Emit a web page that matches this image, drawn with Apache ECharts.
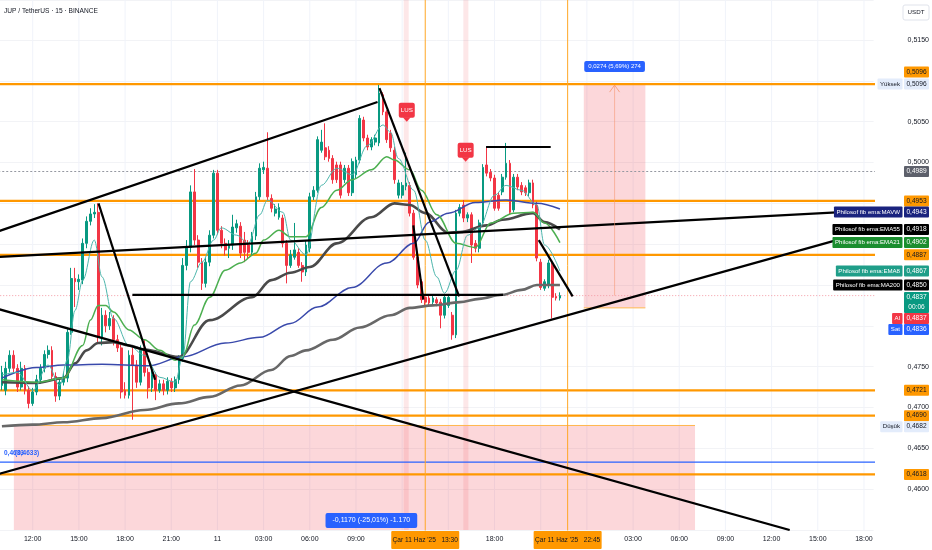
<!DOCTYPE html>
<html><head><meta charset="utf-8">
<script src="https://cdn.jsdelivr.net/npm/echarts@6/dist/echarts.min.js"></script>
<style>html,body{margin:0;padding:0;background:#fff}#c{width:932px;height:550px}</style>
</head><body><div id="c"></div>
<script>
const FONT = '"Liberation Sans", Arial, sans-serif';
const TITLE = 'JUP / TetherUS · 15 · BINANCE';

// 15-minute slots starting 10 Jun 10:00
const SLOT_COUNT = 227;
const categories = [];
for (let s = 0; s < SLOT_COUNT; s++) {
  const m = 10 * 60 + s * 15, d = 10 + Math.floor(m / 1440), mm = m % 1440;
  const h = Math.floor(mm / 60), mi = mm % 60;
  categories.push(h === 0 && mi === 0 ? String(d) : String(h).padStart(2, '0') + ':' + String(mi).padStart(2, '0'));
}
const timeTickIdx = [8, 20, 32, 44, 56, 68, 80, 92, 128, 164, 176, 188, 200, 212, 224];
const timeGridIdx = [8, 20, 32, 44, 56, 68, 80, 92, 104, 116, 128, 140, 152, 164, 176, 188, 200, 212, 224];
const shownPriceTicks = ['0.5150', '0.5050', '0.5000', '0.4750', '0.4700', '0.4650', '0.4600'];

// [open, close, low, high]
const candles = [
[0.4727,0.4743,0.4721,0.4751],[0.4721,0.4748,0.4715,0.4756],[0.4748,0.4764,0.4743,0.4770],[0.4764,0.4748,0.4743,0.4770],
[0.4748,0.4725,0.4719,0.4753],[0.4725,0.4748,0.4721,0.4756],[0.4748,0.4721,0.4716,0.4752],[0.4721,0.4705,0.4699,0.4726],
[0.4705,0.4719,0.4702,0.4724],[0.4719,0.4734,0.4715,0.4740],[0.4734,0.4748,0.4729,0.4753],[0.4748,0.4765,0.4743,0.4770],
[0.4765,0.4770,0.4760,0.4776],[0.4770,0.4738,0.4734,0.4775],[0.4738,0.4714,0.4707,0.4743],[0.4714,0.4731,0.4709,0.4736],
[0.4731,0.4737,0.4727,0.4743],[0.4736,0.4792,0.4731,0.4797],[0.4792,0.4858,0.4789,0.4871],[0.4858,0.4854,0.4823,0.4871],
[0.4854,0.4857,0.4844,0.4863],[0.4856,0.4901,0.4851,0.4907],[0.4901,0.4928,0.4895,0.4934],[0.4928,0.4937,0.4923,0.4944],
[0.4937,0.4939,0.4932,0.4949],[0.4939,0.4786,0.4780,0.4950],[0.4786,0.4813,0.4776,0.4822],[0.4813,0.4800,0.4792,0.4819],
[0.4800,0.4809,0.4795,0.4817],[0.4809,0.4783,0.4776,0.4813],[0.4783,0.4773,0.4768,0.4789],[0.4773,0.4719,0.4711,0.4778],
[0.4721,0.4715,0.4711,0.4731],[0.4715,0.4764,0.4711,0.4770],[0.4764,0.4752,0.4685,0.4773],[0.4752,0.4731,0.4724,0.4758],
[0.4731,0.4770,0.4727,0.4776],[0.4773,0.4743,0.4738,0.4783],[0.4743,0.4724,0.4711,0.4748],[0.4724,0.4740,0.4719,0.4746],
[0.4740,0.4721,0.4709,0.4743],[0.4721,0.4729,0.4718,0.4734],[0.4729,0.4721,0.4715,0.4734],[0.4721,0.4732,0.4716,0.4737],
[0.4732,0.4724,0.4719,0.4736],[0.4724,0.4734,0.4719,0.4738],[0.4734,0.4760,0.4729,0.4764],[0.4760,0.4874,0.4756,0.4883],
[0.4874,0.4896,0.4868,0.4905],[0.4896,0.4964,0.4890,0.4972],[0.4964,0.4905,0.4899,0.4992],[0.4905,0.4878,0.4871,0.4911],
[0.4878,0.4852,0.4844,0.4883],[0.4852,0.4878,0.4847,0.4883],[0.4878,0.4911,0.4873,0.4917],[0.4911,0.4987,0.4907,0.4991],
[0.4987,0.4917,0.4912,0.4991],[0.4917,0.4901,0.4895,0.4922],[0.4901,0.4893,0.4886,0.4907],[0.4895,0.4899,0.4883,0.4905],
[0.4899,0.4921,0.4893,0.4936],[0.4920,0.4925,0.4914,0.4930],[0.4922,0.4889,0.4883,0.4927],[0.4905,0.4890,0.4878,0.4915],
[0.4899,0.4890,0.4883,0.4905],[0.4890,0.4910,0.4886,0.4915],[0.4910,0.4958,0.4905,0.4964],[0.4958,0.4993,0.4954,0.4999],
[0.4991,0.4994,0.4986,0.5001],[0.4993,0.4958,0.4954,0.5037],[0.4956,0.4944,0.4939,0.4961],[0.4938,0.4943,0.4934,0.4949],
[0.4933,0.4945,0.4930,0.4950],[0.4932,0.4901,0.4896,0.4936],[0.4901,0.4874,0.4852,0.4905],[0.4874,0.4887,0.4871,0.4893],
[0.4884,0.4893,0.4881,0.4926],[0.4890,0.4874,0.4871,0.4895],[0.4874,0.4866,0.4854,0.4878],[0.4866,0.4899,0.4861,0.4905],
[0.4895,0.4958,0.4890,0.4963],[0.4958,0.4966,0.4954,0.4971],[0.4966,0.5028,0.4963,0.5032],[0.5015,0.5025,0.5012,0.5040],
[0.5018,0.5007,0.5003,0.5048],[0.5015,0.5005,0.5001,0.5020],[0.5005,0.4979,0.4974,0.5009],[0.4997,0.4979,0.4975,0.5001],
[0.4997,0.4960,0.4956,0.5001],[0.4979,0.4993,0.4975,0.4997],[0.4993,0.4963,0.4959,0.4997],[0.4963,0.5001,0.4959,0.5005],
[0.4985,0.5003,0.4981,0.5007],[0.5003,0.5054,0.4999,0.5058],[0.5052,0.5030,0.5026,0.5056],[0.5030,0.5019,0.5015,0.5034],
[0.5019,0.5028,0.5015,0.5031],[0.5025,0.5030,0.5021,0.5034],[0.5024,0.5085,0.5020,0.5095],[0.5083,0.5062,0.5058,0.5086],
[0.5062,0.5028,0.5024,0.5064],[0.5036,0.5018,0.5013,0.5040],[0.5015,0.4979,0.4974,0.5019],[0.4960,0.4975,0.4956,0.4979],
[0.4960,0.4972,0.4956,0.4976],[0.4971,0.4975,0.4966,0.5012],[0.4972,0.4938,0.4934,0.4976],[0.4938,0.4884,0.4881,0.4942],
[0.4884,0.4850,0.4846,0.4888],[0.4854,0.4832,0.4828,0.4857],[0.4835,0.4829,0.4825,0.4839],[0.4834,0.4828,0.4824,0.4838],
[0.4829,0.4834,0.4825,0.4838],[0.4832,0.4828,0.4824,0.4835],[0.4829,0.4813,0.4797,0.4833],[0.4813,0.4835,0.4809,0.4839],
[0.4825,0.4835,0.4822,0.4839],[0.4813,0.4789,0.4783,0.4817],[0.4789,0.4938,0.4785,0.4942],[0.4938,0.4945,0.4934,0.4949],
[0.4948,0.4932,0.4927,0.4954],[0.4932,0.4936,0.4927,0.4939],[0.4936,0.4899,0.4877,0.4939],[0.4901,0.4895,0.4890,0.4905],
[0.4895,0.4926,0.4890,0.4930],[0.4926,0.4994,0.4922,0.4998],[0.4997,0.4987,0.4983,0.5019],[0.4988,0.4981,0.4977,0.4992],
[0.4981,0.4944,0.4941,0.4985],[0.4960,0.4944,0.4941,0.4964],[0.4964,0.4982,0.4960,0.4986],[0.4982,0.4999,0.4979,0.5024],
[0.4999,0.4939,0.4936,0.5003],[0.4942,0.4982,0.4939,0.4986],[0.4982,0.4970,0.4966,0.4986],[0.4972,0.4964,0.4960,0.4976],
[0.4969,0.4963,0.4959,0.4972],[0.4963,0.4975,0.4959,0.4979],[0.4975,0.4948,0.4944,0.4979],[0.4948,0.4883,0.4879,0.4952],
[0.4878,0.4847,0.4844,0.4882],[0.4846,0.4854,0.4843,0.4857],[0.4850,0.4877,0.4846,0.4881],[0.4874,0.4835,0.4809,0.4878],
[0.4836,0.4834,0.4831,0.4840],[0.4834,0.4837,0.4831,0.4841]
];

// indicator lines: [slot index, price]
const ema8 = [[0,0.4740],[4,0.4743],[8,0.4721],[12,0.4752],[15,0.4727],[17,0.4758],[19,0.4819],[21,0.4856],[24,0.4905],[26,0.4860],[29,0.4809],[33,0.4776],[37,0.4764],[41,0.4737],[45,0.4731],[47,0.4762],[49,0.4854],[52,0.4878],[55,0.4905],[57,0.4920],[61,0.4911],[64,0.4901],[67,0.4936],[69,0.4954],[73,0.4939],[75,0.4905],[79,0.4887],[83,0.4972],[87,0.4993],[91,0.4985],[95,0.5021],[99,0.5046],[101,0.5037],[103,0.5005],[107,0.4966],[110,0.4905],[113,0.4860],[115,0.4840],[118,0.4868],[121,0.4911],[124,0.4920],[128,0.4960],[131,0.4972],[135,0.4966],[139,0.4948],[141,0.4899],[145,0.4867]];
const ema21 = [[0,0.4734],[9,0.4731],[16,0.4736],[21,0.4776],[23,0.4807],[25,0.4825],[27,0.4825],[29,0.4817],[33,0.4795],[37,0.4783],[41,0.4770],[45,0.4758],[47,0.4762],[50,0.4801],[54,0.4835],[58,0.4868],[62,0.4877],[66,0.4889],[68,0.4905],[72,0.4917],[75,0.4909],[79,0.4909],[83,0.4945],[87,0.4966],[91,0.4979],[96,0.4991],[100,0.5007],[102,0.5003],[106,0.4991],[109,0.4966],[113,0.4936],[118,0.4901],[123,0.4896],[127,0.4926],[133,0.4938],[138,0.4939],[141,0.4926],[145,0.4902]];
const ema55 = [[0,0.4731],[9,0.4730],[16,0.4736],[19,0.4754],[22,0.4770],[25,0.4779],[29,0.4780],[33,0.4776],[37,0.4771],[46,0.4762],[54,0.4807],[65,0.4835],[70,0.4856],[75,0.4865],[80,0.4872],[87,0.4901],[96,0.4933],[102,0.4950],[106,0.4948],[110,0.4938],[116,0.4914],[119,0.4915],[126,0.4923],[130,0.4930],[138,0.4938],[141,0.4927],[145,0.4918]];
const ma200 = [[0,0.4677],[8,0.4679],[16,0.4682],[26,0.4687],[37,0.4697],[46,0.4705],[54,0.4713],[62,0.4727],[70,0.4746],[75,0.4763],[79,0.4770],[86,0.4783],[93,0.4798],[101,0.4813],[106,0.4822],[112,0.4825],[119,0.4829],[124,0.4833],[130,0.4838],[135,0.4844],[139,0.4850],[145,0.4850]];
const mavw = [[0,0.4736],[9,0.4749],[16,0.4752],[26,0.4753],[38,0.4751],[47,0.4762],[58,0.4779],[67,0.4786],[75,0.4803],[82,0.4823],[91,0.4847],[100,0.4877],[107,0.4901],[111,0.4927],[116,0.4938],[123,0.4951],[131,0.4954],[139,0.4950],[145,0.4943]];

// drawn trend lines: [slot1, price1, slot2, price2]
const trendLines = [
  [-2,0.4914,97.6,0.5074],[-2,0.4884,216.9,0.4939],[25.1,0.4950,39.8,0.4734],[-2,0.4822,204.7,0.4550],
  [-2,0.4617,216.9,0.4905],[33.9,0.4838,130.2,0.4838],[98.1,0.5091,118.8,0.4836],[125.8,0.5019,142.6,0.5019],
  [106.9,0.4923,109.5,0.4832],[139.5,0.4905,148.3,0.4836]
];
const orangeLevels = [0.5096, 0.4953, 0.4887, 0.4721, 0.4690, 0.4618];
const blueLevel = 0.4633;
const grayDotLevel = 0.4989;
const lastPrice = 0.4837;
const verticalMarks = [110, 147];
// zones: [slot1, price1, slot2, price2, kind]
const zones = [[151.2,0.5096,167.2,0.4822,0],[3.1,0.4678,180.1,0.3508,0],[104.4,0.60,105.7,0.40,1],[119.9,0.60,121.2,0.40,1]];
const zoneEdges = [[151.2,0.4822,167.2,0.4822],[3.1,0.4678,180.1,0.4678]];
const signals = [{v:105.2, p:0.5050, text:'LUS'}, {v:120.5, p:0.5001, text:'LUS'}];
const measureA = {v:159.2, p:0.5096, text:'0,0274 (5,69%) 274', from:0.4837};
const measureB = {v:96.0, text:'-0,1170 (-25,01%) -1.170'};
const timeMarkers = [{v:110, text:"Çar 11 Haz '25   13:30"}, {v:147, text:"Çar 11 Haz '25   22:45"}];
const leftTag = {p:0.4633, a:'0,4633', b:'(0,4633)'};
const ORANGE = '#FF9800';
const rightLabels = [
  {p:0.5096, name:'Yüksek', nbg:'#E3ECFB', nfg:'#131722', val:'0,5096', bg:'#E3ECFB', fg:'#131722'},
  {p:0.5096, val:'0,5096', bg:ORANGE, fg:'#131722', above:true},
  {p:0.4989, val:'0,4989', bg:'#5D606B', fg:'#fff'},
  {p:0.4953, val:'0,4953', bg:ORANGE, fg:'#131722'},
  {p:0.4943, name:'Philosof fib ema:MAVW', nbg:'#1A237E', nfg:'#fff', val:'0,4943', bg:'#1A237E', fg:'#fff'},
  {p:0.4918, name:'Philosof fib ema:EMA55', nbg:'#000', nfg:'#fff', val:'0,4918', bg:'#000', fg:'#fff'},
  {p:0.4902, name:'Philosof fib ema:EMA21', nbg:'#1B8E2F', nfg:'#fff', val:'0,4902', bg:'#1B8E2F', fg:'#fff'},
  {p:0.4887, val:'0,4887', bg:ORANGE, fg:'#131722'},
  {p:0.4867, name:'Philosof fib ema:EMA8', nbg:'#1F9E89', nfg:'#fff', val:'0,4867', bg:'#1F9E89', fg:'#fff'},
  {p:0.4850, name:'Philosof fib ema:MA200', nbg:'#000', nfg:'#fff', val:'0,4850', bg:'#000', fg:'#fff'},
  {p:0.4837, val:'0,4837', sub:'00:06', bg:'#089981', fg:'#fff'},
  {p:0.4837, name:'Al', nbg:'#F23645', nfg:'#fff', val:'0,4837', bg:'#F23645', fg:'#fff'},
  {p:0.4836, name:'Sat', nbg:'#2962FF', nfg:'#fff', val:'0,4836', bg:'#2962FF', fg:'#fff'},
  {p:0.4721, val:'0,4721', bg:ORANGE, fg:'#131722'},
  {p:0.4690, val:'0,4690', bg:ORANGE, fg:'#131722'},
  {p:0.4682, name:'Düşük', nbg:'#E3ECFB', nfg:'#131722', val:'0,4682', bg:'#E3ECFB', fg:'#131722'},
  {p:0.4618, val:'0,4618', bg:ORANGE, fg:'#131722'}
];

const chart = echarts.init(document.getElementById('c'), null, {renderer:'canvas'});
const seg = (s, color, width, type, z) => ({
  type:'line', xAxisIndex:1, yAxisIndex:0, data:[[s[0], s[1]], [s[2], s[3]]], symbol:'none', silent:true,
  lineStyle:{color, width, type: type || 'solid'}, z, animation:false
});
const maLine = (d, color, width, z) => ({
  type:'line', xAxisIndex:1, yAxisIndex:0, data:d, symbol:'none', smooth:0.35, smoothMonotone:'x', silent:true,
  lineStyle:{color, width}, z
});
const series = [];
series.push({
  type:'custom', xAxisIndex:1, yAxisIndex:0, z:1, silent:true, data:zones,
  renderItem:(params, api) => {
    const a = api.coord([api.value(0), api.value(1)]), b = api.coord([api.value(2), api.value(3)]);
    const cs = params.coordSys;
    const x1 = Math.max(Math.min(a[0], b[0]), cs.x), x2 = Math.min(Math.max(a[0], b[0]), cs.x + cs.width);
    const y1 = Math.max(Math.min(a[1], b[1]), cs.y), y2 = Math.min(Math.max(a[1], b[1]), cs.y + cs.height);
    const fill = api.value(4) === 0 ? 'rgba(242,54,69,0.2)' : 'rgba(242,54,69,0.12)';
    return {type:'rect', shape:{x:x1, y:y1, width:x2 - x1, height:y2 - y1}, style:{fill}};
  }
});
timeGridIdx.forEach(t => series.push(seg([t, 0.3, t, 0.7], '#F0F3FA', 1, 'solid', 0)));
zoneEdges.forEach(s => series.push(seg(s, '#FFB74D', 1, 'solid', 2)));
orangeLevels.forEach(p => series.push(seg([-2, p, 230, p], ORANGE, 2.2, 'solid', 2)));
series.push(seg([-2, blueLevel, 230, blueLevel], '#2962FF', 1.2, 'solid', 2));
series.push(seg([-2, grayDotLevel, 230, grayDotLevel], '#9598A1', 1, [2, 2], 2));
series.push(seg([-2, lastPrice, 230, lastPrice], '#F49AA5', 1, [1, 2], 2));
verticalMarks.forEach(v => series.push(seg([v, 0.3, v, 0.7], '#FFA726', 1, 'solid', 2)));
series.push({
  type:'candlestick', xAxisIndex:0, yAxisIndex:0, data:candles, barWidth:2.3, z:3, silent:true,
  itemStyle:{color:'#089981', color0:'#F23645', borderColor:'#089981', borderColor0:'#F23645', borderWidth:1}
});
series.push(maLine(ma200, '#686868', 2.6, 4));
series.push(maLine(ema55, '#4A4A4A', 2.6, 4));
series.push(maLine(mavw, '#3949AB', 1.5, 4));
series.push(maLine(ema21, '#4CAF50', 1.5, 4));
series.push(maLine(ema8, '#4DB6AC', 1, 4));
trendLines.forEach(s => series.push(seg(s, '#000', 2.2, 'solid', 5)));

chart.setOption({
  animation:false,
  backgroundColor:'#fff',
  grid:{left:-2.84, top:0, width:876.9, height:530, containLabel:false},
  xAxis:[
    {type:'category', data:categories, boundaryGap:true, axisLine:{show:false}, axisTick:{show:false},
     axisLabel:{interval:(i) => timeTickIdx.includes(i), color:'#131722', fontSize:7, fontFamily:FONT, margin:6},
     splitLine:{show:false}},
    {type:'value', min:-0.5, max:SLOT_COUNT - 0.5, show:false}
  ],
  yAxis:{type:'value', position:'right', min:0.4550, max:0.5199, interval:0.005,
    axisLine:{show:false}, axisTick:{show:false},
    axisLabel:{margin:34, color:'#131722', fontSize:7, fontFamily:FONT,
      formatter:(v) => { const s = v.toFixed(4); return shownPriceTicks.includes(s) ? s.replace('.', ',') : ''; }},
    splitLine:{lineStyle:{color:'#F2F3F6', width:1}}
  },
  series
});

(function buildGraphics() {
  const gx = v => chart.convertToPixel({xAxisIndex:1}, v);
  const gy = p => chart.convertToPixel({yAxisIndex:0}, p);
  const G = [];
  const ctx = document.createElement('canvas').getContext('2d');
  const tw = (t, f) => { ctx.font = f; return ctx.measureText(t).width; };
  const rect = (x, y, w, h, fill, stroke, r) => G.push({type:'rect', z:100, silent:true, shape:{x, y, width:w, height:h, r:r || 0}, style:{fill, stroke:stroke || null, lineWidth:stroke ? 1 : 0}});
  const text = (t, x, y, fill, font, align) => G.push({type:'text', z:101, silent:true, style:{text:t, x, y, fill, font, align:align || 'center', verticalAlign:'middle'}});
  const F = s => s + 'px ' + FONT;

  // title and unit
  text(TITLE, 4, 11, '#131722', F(6.6), 'left');
  rect(903, 5, 26, 15, '#fff', '#E0E3EB', 2);
  text('USDT', 916, 12.5, '#131722', F(6.2));

  // right price labels
  const VX = 904, VW = 25, LH = 11;
  let prevBottom = -Infinity, lastTop = 0;
  rightLabels.forEach(L => {
    const y = gy(L.p);
    const h = L.sub ? 21 : LH;
    let top;
    if (L.above) { top = lastTop - LH - 1; }
    else {
      top = y - (L.sub ? 3.5 : LH / 2);
      if (top < prevBottom) top = prevBottom;
      prevBottom = top + h; lastTop = top;
    }
    rect(VX, top, VW, h, L.bg, null, 1);
    if (L.sub) {
      text(L.val, VX + VW / 2, top + 5.5, L.fg, F(6.6));
      text(L.sub, VX + VW / 2, top + 15.5, L.fg, F(6.6));
    } else {
      text(L.val, VX + VW / 2, top + LH / 2, L.fg, F(6.6));
    }
    if (L.name) {
      const nf = F(6.1);
      const w = tw(L.name, nf) + 5;
      rect(VX - 1.5 - w, top, w, LH, L.nbg, null, 1);
      text(L.name, VX - 1.5 - w / 2, top + LH / 2, L.nfg, nf);
    }
  });

  // time axis markers
  timeMarkers.forEach(m => {
    const x = gx(m.v);
    rect(x - 34, 531, 68, 18, ORANGE, null, 1);
    text(m.text, x, 540, '#131722', F(6.6));
  });

  // signal labels
  signals.forEach(s => {
    const x = gx(s.v), tip = gy(s.p);
    rect(x - 8, tip - 19, 16, 15, '#F23645', null, 2);
    G.push({type:'polygon', z:100, silent:true, shape:{points:[[x - 4, tip - 4.5], [x + 4, tip - 4.5], [x, tip]]}, style:{fill:'#F23645'}});
    text(s.text, x, tip - 11.5, '#fff', F(6.2));
  });

  // measurement labels
  const ax = gx(measureA.v), ay = gy(measureA.p);
  G.push({type:'line', z:100, silent:true, shape:{x1:ax, y1:gy(measureA.from), x2:ax, y2:ay + 1}, style:{stroke:'rgba(245,150,110,0.55)', lineWidth:1}});
  G.push({type:'polyline', z:100, silent:true, shape:{points:[[ax - 5, ay + 8], [ax, ay + 1], [ax + 5, ay + 8]]}, style:{stroke:'rgba(245,150,110,0.8)', lineWidth:1, fill:null}});
  const wa = tw(measureA.text, F(6)) + 8;
  rect(ax - wa / 2, ay - 23, wa, 11, '#2962FF', null, 2);
  text(measureA.text, ax, ay - 17.5, '#fff', F(6));
  const bx = gx(measureB.v);
  const wb = tw(measureB.text, F(7)) + 14;
  rect(bx - wb / 2, 513, wb, 15, '#2962FF', null, 2);
  text(measureB.text, bx, 520.5, '#fff', F(7));

  // left tag
  const ly = gy(leftTag.p) - 9.5;
  text(leftTag.a, 4, ly, '#2962FF', 'bold ' + F(6.5), 'left');
  text(leftTag.b, 15, ly, '#2962FF', 'bold ' + F(6.5), 'left');

  chart.setOption({graphic:G});
})();
</script></body></html>
